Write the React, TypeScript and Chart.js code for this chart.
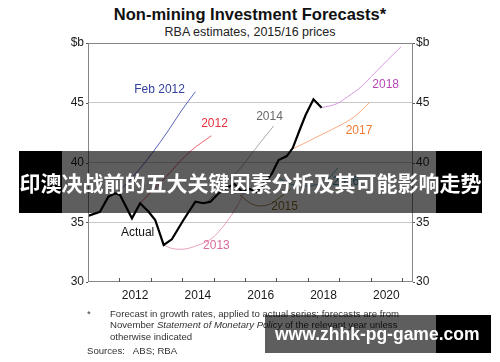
import React, { useEffect, useRef } from "react";
import { Chart, registerables } from "chart.js";

Chart.register(...registerables);

const FONT = "'Liberation Sans', Arial, Helvetica, sans-serif";

// ---- axes ----
const xMin = 2011;
const xMax = 2021.35;
const yMin = 30;
const yMax = 50;
const yTickValues = [30, 35, 40, 45, 50];
const yTopLabel = "$b";
const xLabelYears = [2012, 2014, 2016, 2018, 2020];
const xTickYears = [2012, 2013, 2014, 2015, 2016, 2017, 2018, 2019, 2020, 2021];

// ---- series (decimal year, $b) ----
const actualX = [2011.0, 2011.38, 2011.65, 2011.86, 2012.02, 2012.4, 2012.66, 2012.93, 2013.14, 2013.41, 2013.67, 2014.04, 2014.42, 2014.68, 2014.9, 2015.16, 2015.41, 2015.66, 2015.92, 2016.14, 2016.37, 2016.59, 2016.85, 2017.07, 2017.33, 2017.52, 2017.74, 2017.93, 2018.18, 2018.44];
const actualY = [35.52, 35.88, 37.14, 37.42, 37.28, 35.33, 36.59, 35.88, 35.19, 33.1, 33.57, 35.19, 36.72, 36.59, 36.72, 37.42, 37.87, 38.2, 37.53, 37.78, 37.53, 38.2, 39.04, 40.21, 40.54, 41.21, 42.72, 43.97, 45.29, 44.59];

const feb2012X = [2011.96, 2012.34, 2012.66, 2013.04, 2013.57, 2013.99, 2014.42];
const feb2012Y = [37.53, 38.54, 39.51, 40.77, 42.72, 44.39, 45.92];

const f2012X = [2012.66, 2013.08, 2013.49, 2013.91, 2014.31, 2014.93];
const f2012Y = [36.59, 37.7, 38.81, 40.04, 41.05, 42.24];

const f2013X = [2013.41, 2013.68, 2013.99, 2014.52, 2014.95, 2015.38, 2015.8, 2016.11];
const f2013Y = [33.1, 32.8, 32.74, 33.1, 33.66, 34.91, 36.59, 38.37];

const f2014X = [2014.77, 2015.28, 2015.86, 2016.4, 2016.91];
const f2014Y = [36.61, 38.03, 39.54, 41.38, 43.05];

const f2015X = [2015.84, 2016.16, 2016.48, 2016.81, 2017.13, 2017.45];
const f2015Y = [37.28, 36.61, 36.36, 36.53, 37.11, 37.78];

const f2016X = [2016.97, 2017.45, 2017.93, 2018.35, 2018.64, 2018.96];
const f2016Y = [38.87, 38.2, 38.03, 38.2, 38.62, 39.54];

const f2017X = [2017.45, 2017.99, 2018.52, 2019.05, 2019.48, 2019.96];
const f2017Y = [41.05, 41.74, 42.44, 43.14, 43.83, 45.0];

const f2018X = [2018.44, 2018.95, 2019.27, 2019.7, 2020.12, 2020.54, 2020.97];
const f2018Y = [44.59, 44.95, 45.51, 46.34, 47.46, 48.58, 49.69];

// ---- series names, colours and label anchors (data units) ----
const seriesNames = ["Actual", "Feb 2012", "2012", "2013", "2014", "2015", "2016", "2017", "2018"];
const seriesColors = ["#000000", "#5862b8", "#f06070", "#e8a0c0", "#a8a8a8", "#a88a50", "#5aa8c8", "#f8aa80", "#d898e0"];
const labelColors = ["#111111", "#34409e", "#e8303c", "#d86a9c", "#6a6a6a", "#8a6a2a", "#3a90b0", "#f07a32", "#b848b8"];
const labelX = [2012.58, 2013.28, 2015.03, 2015.09, 2016.78, 2017.26, 2019.21, 2019.63, 2020.48];
const labelY = [34.16, 46.07, 43.22, 33.04, 43.83, 36.28, 38.37, 42.64, 46.49];

const seriesXs = [actualX, feb2012X, f2012X, f2013X, f2014X, f2015X, f2016X, f2017X, f2018X];
const seriesYs = [actualY, feb2012Y, f2012Y, f2013Y, f2014Y, f2015Y, f2016Y, f2017Y, f2018Y];

const framePlugin = {
  id: "frameTicks",
  afterDraw(chart: any) {
    const { ctx, chartArea: a } = chart;
    const xs = chart.scales.x;
    const ys = chart.scales.y;
    ctx.save();
    ctx.strokeStyle = "#868686";
    ctx.lineWidth = 1;
    ctx.strokeRect(a.left + 0.5, a.top + 0.5, a.right - a.left - 1, a.bottom - a.top - 1);
    ctx.strokeStyle = "#555555";
    ctx.beginPath();
    xTickYears.forEach((yr) => {
      const px = Math.round(xs.getPixelForValue(yr)) + 0.5;
      ctx.moveTo(px, a.bottom);
      ctx.lineTo(px, a.bottom - 4);
    });
    yTickValues.forEach((v) => {
      const py = Math.round(ys.getPixelForValue(v)) + 0.5;
      ctx.moveTo(a.left, py);
      ctx.lineTo(a.left - 2, py);
      ctx.moveTo(a.right, py);
      ctx.lineTo(a.right + 2, py);
    });
    ctx.stroke();
    ctx.restore();
  },
};

const labelPlugin = {
  id: "seriesLabels",
  afterDatasetsDraw(chart: any) {
    const { ctx } = chart;
    const xs = chart.scales.x;
    const ys = chart.scales.y;
    ctx.save();
    ctx.font = `12px ${FONT}`;
    ctx.textAlign = "center";
    ctx.textBaseline = "middle";
    seriesNames.forEach((name, i) => {
      ctx.fillStyle = labelColors[i];
      ctx.fillText(name, xs.getPixelForValue(labelX[i]), ys.getPixelForValue(labelY[i]));
    });
    ctx.restore();
  },
};

function ChartCanvas() {
  const ref = useRef<HTMLCanvasElement | null>(null);
  useEffect(() => {
    if (!ref.current) return;
    const datasets = seriesNames.map((name, i) => ({
      label: name,
      data: seriesXs[i].map((x, j) => ({ x, y: seriesYs[i][j] })),
      borderColor: seriesColors[i],
      backgroundColor: seriesColors[i],
      borderWidth: i === 0 ? 2.2 : 1,
      pointRadius: 0,
      tension: i === 0 ? 0 : 0.4,
      cubicInterpolationMode: i === 0 ? "default" : "monotone",
      fill: false,
      yAxisID: "y",
    }));
    const chart = new Chart(ref.current, {
      type: "line",
      data: { datasets: datasets as any },
      options: {
        responsive: false,
        animation: false,
        devicePixelRatio: 1,
        layout: { padding: { left: 0, right: 0, top: 43, bottom: 60 } },
        plugins: { legend: { display: false }, tooltip: { enabled: false }, title: { display: false } },
        scales: {
          x: {
            type: "linear",
            min: xMin,
            max: xMax,
            grid: { display: false, drawTicks: false },
            border: { display: false },
            afterBuildTicks: (s: any) => {
              s.ticks = xLabelYears.map((v) => ({ value: v + 0.5 }));
            },
            afterFit: (s: any) => {
              s.height = 20;
            },
            ticks: {
              autoSkip: false,
              maxRotation: 0,
              padding: 6,
              color: "#1a1a1a",
              font: { family: FONT, size: 12 },
              callback: (v: any) => String(Math.floor(Number(v))),
            },
          },
          y: {
            type: "linear",
            position: "left",
            min: yMin,
            max: yMax,
            afterBuildTicks: (s: any) => {
              s.ticks = yTickValues.map((v) => ({ value: v }));
            },
            afterFit: (s: any) => {
              s.width = 88;
            },
            grid: {
              drawTicks: false,
              lineWidth: 1,
              color: (c: any) => (c.tick && (c.tick.value === yMin || c.tick.value === yMax) ? "rgba(0,0,0,0)" : "#c8c8c8"),
            },
            border: { display: false },
            ticks: {
              padding: 4,
              color: "#1a1a1a",
              font: { family: FONT, size: 12 },
              callback: (v: any) => (Number(v) === yMax ? yTopLabel : String(v)),
            },
          },
          y1: {
            type: "linear",
            position: "right",
            min: yMin,
            max: yMax,
            afterBuildTicks: (s: any) => {
              s.ticks = yTickValues.map((v) => ({ value: v }));
            },
            afterFit: (s: any) => {
              s.width = 87;
            },
            grid: { display: false, drawTicks: false },
            border: { display: false },
            ticks: {
              padding: 3,
              color: "#1a1a1a",
              font: { family: FONT, size: 12 },
              callback: (v: any) => (Number(v) === yMax ? yTopLabel : String(v)),
            },
          },
        },
      },
      plugins: [framePlugin, labelPlugin],
    });
    return () => chart.destroy();
  }, []);
  return <canvas ref={ref} width={500} height={362} style={{ position: "absolute", left: 0, top: 0, width: 500, height: 362 }} />;
}

const abs = (s: React.CSSProperties): React.CSSProperties => ({ position: "absolute", whiteSpace: "nowrap", ...s });

export default function App() {
  const foot: React.CSSProperties = { fontFamily: FONT, fontSize: 9.6, lineHeight: "12px", color: "#333" };
  return (
    <div style={{ position: "absolute", left: 0, top: 0, width: 500, height: 362, background: "#fff", overflow: "hidden" }}>
      <div style={abs({ left: 0, width: 500, top: 6, textAlign: "center", fontFamily: FONT, fontWeight: "bold", fontSize: 16.5, lineHeight: "16.5px", color: "#111" })}>
        Non-mining Investment Forecasts*
      </div>
      <div style={abs({ left: 0, width: 500, top: 26, textAlign: "center", fontFamily: FONT, fontSize: 12.5, lineHeight: "12.5px", color: "#222" })}>
        RBA estimates, 2015/16 prices
      </div>
      <ChartCanvas />
      <div style={abs({ left: 87, top: 307.5, ...foot })}>*</div>
      <div style={abs({ left: 110, top: 307.5, ...foot })}>Forecast in growth rates, applied to actual series; forecasts are from</div>
      <div style={abs({ left: 110, top: 319, ...foot })}>
        November <i>Statement of Monetary Policy</i> of the relevant year unless
      </div>
      <div style={abs({ left: 110, top: 330.5, ...foot })}>otherwise indicated</div>
      <div style={abs({ left: 87, top: 345, ...foot })}>Sources:&nbsp;&nbsp;&nbsp;ABS; RBA</div>

      {/* overlay banner */}
      <div style={abs({ left: 19, top: 151, width: 43, height: 62, background: "#000" })} />
      <div style={abs({ left: 62, top: 151, width: 374, height: 62, background: "rgba(0,0,0,0.63)" })} />
      <div style={abs({ left: 436, top: 151, width: 46, height: 62, background: "#000" })} />
      <div style={abs({ left: 19, top: 151, width: 463, height: 62, lineHeight: "62px", textAlign: "center", color: "#fff", fontWeight: "bold", fontSize: 21, fontFamily: "'Noto Sans CJK SC', sans-serif" })}>
        印澳决战前的五大关键因素分析及其可能影响走势
      </div>

      {/* watermark */}
      <div style={abs({ left: 265, top: 315, width: 171, height: 38, background: "rgba(0,0,0,0.63)" })} />
      <div style={abs({ left: 436, top: 315, width: 55, height: 38, background: "#000" })} />
      <div style={abs({ left: 275, top: 315, height: 38, lineHeight: "38px", color: "#fff", fontWeight: "bold", fontSize: 17.5, fontFamily: FONT })}>
        www.zhhk-pg-game.com
      </div>
    </div>
  );
}
